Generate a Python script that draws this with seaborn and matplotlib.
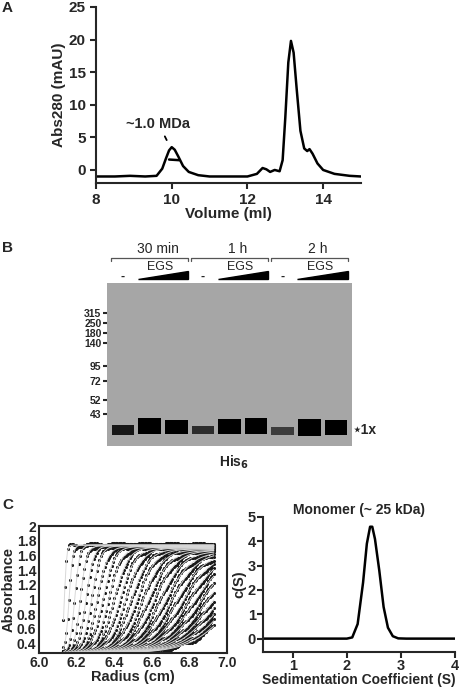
import numpy as np
import pandas as pd
import matplotlib
matplotlib.use("Agg")
import matplotlib.pyplot as plt
import seaborn as sns

sns.set_style("ticks")
plt.rcParams['font.family'] = ['Liberation Sans', 'DejaVu Sans']
plt.rcParams['font.weight'] = 'bold'
plt.rcParams['axes.labelweight'] = 'bold'
plt.rcParams['axes.titleweight'] = 'bold'
plt.rcParams['axes.linewidth'] = 1.5

# panel A: gel filtration trace
vol = [8.0, 8.5, 8.9, 9.3, 9.6, 9.75, 9.85, 9.93, 10.0, 10.08, 10.18, 10.3, 10.45, 10.7, 11.0, 12.0,
       12.25, 12.4, 12.5, 12.6, 12.72, 12.85, 12.93, 13.0, 13.08, 13.15, 13.22, 13.3, 13.4, 13.5,
       13.58, 13.64, 13.72, 13.85, 14.0, 14.3, 14.7, 15.0]
abs280 = [-1.0, -1.0, -0.9, -1.0, -0.9, 0.2, 1.8, 3.0, 3.5, 3.1, 2.0, 0.6, -0.3, -0.8, -1.0, -1.0,
          -0.6, 0.3, 0.1, -0.3, 0.0, -0.2, 1.5, 8.0, 16.5, 19.8, 18.0, 12.5, 6.0, 3.3,
          2.9, 3.2, 2.5, 1.0, 0.0, -0.6, -0.9, -1.0]
frac_vol = [9.93, 10.2]
frac_abs = [1.6, 1.5]

# panel B: western blot
time_groups = ["30 min", "1 h", "2 h"]
lane_egs = ["-", "+", "++"] * 3
band_dark = [0.80, 1.0, 1.0, 0.62, 1.0, 1.0, 0.48, 1.0, 1.0]
band_top = [27.5, 34.0, 33.0, 26.5, 33.5, 34.0, 26.0, 33.5, 32.5]
band_bot = [18.5, 19.0, 19.5, 19.0, 19.5, 19.0, 18.5, 17.0, 18.0]
marker_kda = ["315", "250", "180", "140", "95", "72", "52", "43"]
marker_pos = [134, 124, 115, 105, 84, 69, 51, 38]

# panel C left: AUC boundary scans (midpoint radius, plateau)
scan_mid = [6.135, 6.16, 6.19, 6.22, 6.25, 6.28, 6.31, 6.34, 6.37, 6.40, 6.43, 6.46, 6.49,
            6.52, 6.55, 6.58, 6.61, 6.64, 6.67, 6.70, 6.73, 6.76, 6.79, 6.82, 6.85, 6.88,
            6.91, 6.94, 6.97, 7.00, 7.03]
scan_top = [1.74, 1.74, 1.74, 1.73, 1.73, 1.73, 1.72, 1.72, 1.71, 1.71, 1.70, 1.70, 1.69,
            1.69, 1.68, 1.67, 1.67, 1.66, 1.65, 1.65, 1.64, 1.63, 1.62, 1.61, 1.60, 1.59,
            1.58, 1.57, 1.56, 1.55, 1.54]

# panel C right: c(S) distribution
sed_s = [0.45, 1.0, 1.5, 2.0, 2.1, 2.2, 2.3, 2.37, 2.43, 2.47, 2.52, 2.6, 2.68, 2.76, 2.85, 2.95, 3.1, 4.0]
sed_c = [0.0, 0.0, 0.0, 0.0, 0.05, 0.6, 2.3, 3.9, 4.6, 4.6, 4.1, 2.8, 1.3, 0.45, 0.1, 0.01, 0.0, 0.0]

W, H = 459, 688
fig = plt.figure(figsize=(W / 100, H / 100), dpi=100)


def px_axes(l, t, r, b):
    return fig.add_axes([l / W, 1 - b / H, (r - l) / W, (b - t) / H])


# ---- A
axA = px_axes(96, 7, 361, 183)
sns.lineplot(x=vol, y=abs280, ax=axA, color="black", lw=1.8, sort=False)
axA.plot(frac_vol, frac_abs, color="black", lw=1.8)
axA.set_xlim(8, 15)
axA.set_ylim(-2, 25)
axA.set_xticks([8, 10, 12, 14])
axA.set_yticks([0, 5, 10, 15, 20, 25])
axA.set_xlabel("Volume (ml)", fontsize=11, labelpad=0)
axA.set_ylabel("Abs280 (mAU)", fontsize=11, labelpad=2)
axA.tick_params(labelsize=11, width=1.5, length=4)
sns.despine(ax=axA)
axA.annotate("~1.0 MDa", xy=(9.9, 4.2), xytext=(9.65, 6.5), fontsize=10.5, ha="center",
             arrowprops=dict(arrowstyle="-", lw=1.3, color="black"))
fig.text(2 / W, 1 - 8 / H, "A", fontsize=11, va="center")

# ---- B
axB = px_axes(107, 283, 352, 446)
axB.set_facecolor("#a6a6a6")
lanes = np.arange(len(band_dark))
for i in lanes:
    g = 0.45 * (1 - band_dark[i])
    axB.bar(i, band_top[i] - band_bot[i], bottom=band_bot[i], width=0.85,
            color=(g, g, g), edgecolor="none")
axB.set_xlim(-0.6, 8.6)
axB.set_ylim(8, 162)
axB.set_xticks([])
axB.set_yticks(marker_pos)
axB.set_yticklabels(marker_kda, fontsize=7.5)
axB.tick_params(axis="y", length=3, width=1.5, pad=1)
for s in axB.spines.values():
    s.set_visible(False)
axB.text(1.005, 0.1, "\u22c61x", transform=axB.transAxes, fontsize=10, va="center")
axB.text(0.52, -0.1, "His$_6$", transform=axB.transAxes, fontsize=10, ha="center", va="center")
fig.text(2 / W, 1 - 248 / H, "B", fontsize=11, va="center")

axL = px_axes(107, 240, 352, 283)
axL.set_xlim(-0.6, 8.6)
axL.set_ylim(0, 1)
axL.axis("off")
for gi, name in enumerate(time_groups):
    x0, x1 = gi * 3 - 0.45, gi * 3 + 2.45
    axL.plot([x0, x0, x1, x1], [0.52, 0.58, 0.58, 0.52], color="#555555", lw=0.9)
    axL.text(gi * 3 + 1.3, 0.78, name, ha="center", va="center", fontsize=10, fontweight="normal")
    axL.text(gi * 3 + 1.4, 0.38, "EGS", ha="center", va="center", fontsize=9, fontweight="normal")
    axL.text(gi * 3, 0.15, "-", ha="center", va="center", fontsize=9)
    axL.fill([gi * 3 + 0.55, gi * 3 + 2.45, gi * 3 + 2.45], [0.1, 0.1, 0.28], color="black")

# ---- C left
axC = px_axes(39, 526, 227, 653)
rr = np.linspace(6.13, 6.93, 110)
for k, (m, top) in enumerate(zip(scan_mid, scan_top)):
    w = 0.006 + 0.0035 * k
    curve = 0.27 + (top - 0.27) / (1 + np.exp(-(rr - m) / w))
    axC.scatter(rr, curve + 0.025 * np.sin(rr * 900 + k), s=5, color="#1a1a1a", lw=0)
    axC.plot(rr, curve, color="#d8d8d8", lw=0.7)
axC.set_xlim(6.0, 7.0)
axC.set_ylim(0.27, 1.92)
axC.set_xticks([6.0, 6.2, 6.4, 6.6, 6.8, 7.0])
axC.set_xticklabels(["6.0", "6.2", "6.4", "6.6", "6.8", "7.0"])
axC.set_yticks([0.4, 0.6, 0.8, 1.0, 1.2, 1.4, 1.6, 1.8, 2.0])
axC.set_yticklabels(["0.4", "0.6", "0.8", "1", "1.2", "1.4", "1.6", "1.8", "2"])
axC.set_xlabel("Radius (cm)", fontsize=10.5, labelpad=0)
axC.set_ylabel("Absorbance", fontsize=10.5, labelpad=1)
axC.tick_params(labelsize=10, length=0, pad=2)
fig.text(2 / W, 1 - 505 / H, "C", fontsize=11, va="center")

# ---- C right
axR = px_axes(263, 517, 455, 652)
sns.lineplot(x=sed_s, y=sed_c, ax=axR, color="black", lw=1.8)
axR.set_xlim(0.45, 4.0)
axR.set_ylim(-0.55, 5)
axR.set_xticks([1, 2, 3, 4])
axR.set_yticks([0, 1, 2, 3, 4, 5])
axR.set_xlabel("Sedimentation Coefficient (S)", fontsize=10, labelpad=0)
axR.set_ylabel("c(S)", fontsize=10.5, labelpad=1)
axR.set_title("Monomer (~ 25 kDa)", fontsize=10, pad=-4)
axR.tick_params(labelsize=10.5, width=1.5, length=4, pad=1)
sns.despine(ax=axR)

fig.savefig("out.png", dpi=100)
